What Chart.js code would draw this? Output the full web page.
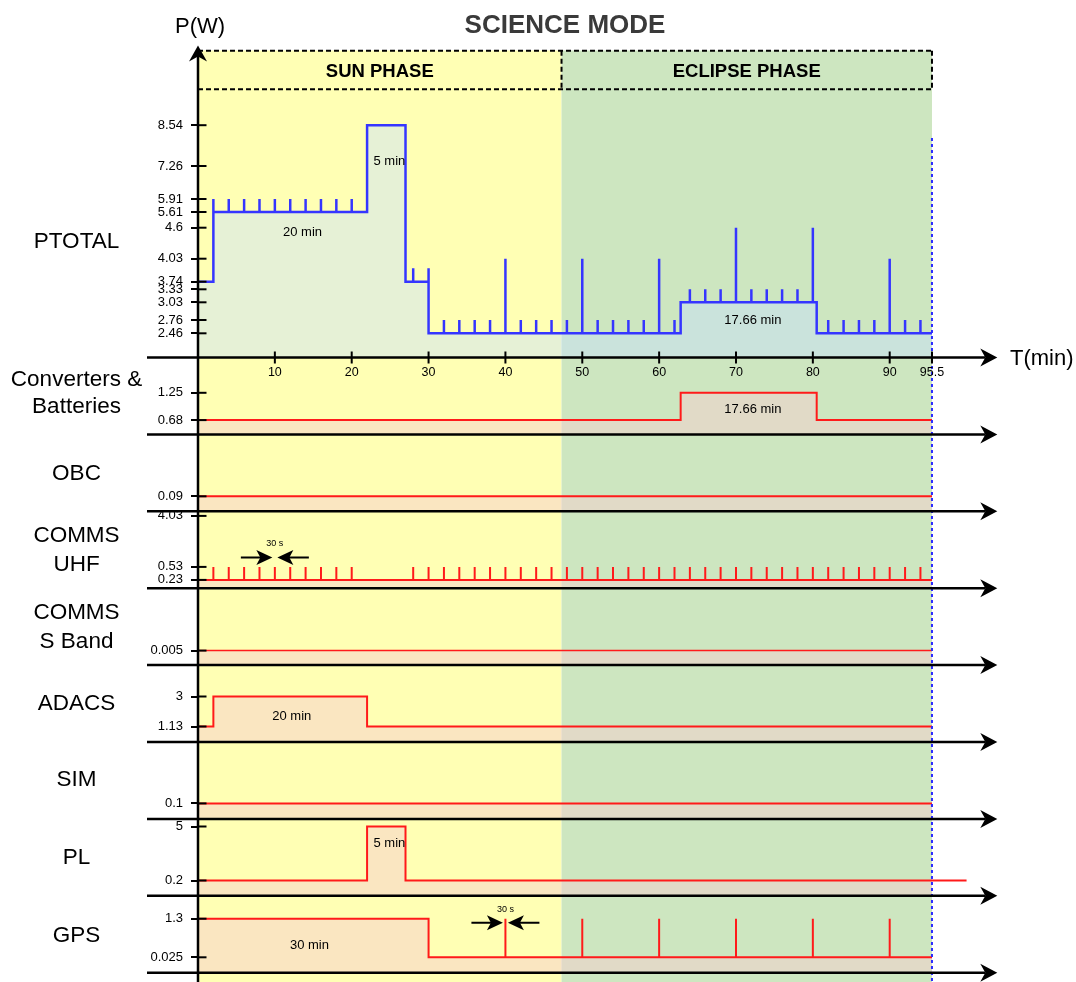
<!DOCTYPE html>
<html>
<head>
<meta charset="utf-8">
<script src="https://cdn.jsdelivr.net/npm/chart.js@4.4.1/dist/chart.umd.min.js"></script>
<style>
  html, body { margin: 0; padding: 0; background: #ffffff; overflow: hidden; }
  #wrap { position: relative; width: 1076px; height: 982px; }
  canvas { display: block; }
</style>
</head>
<body>
<div id="wrap"><canvas id="c" width="1076" height="982"></canvas></div>
<script>
// ================= DATA =================
const timeTicks = [10, 20, 30, 40, 50, 60, 70, 80, 90, 95.5];
const sunPhaseEnd = 47.3;    // min
const orbitEnd = 95.5;       // min

const ptotalTicks = [2.46, 2.76, 3.03, 3.33, 3.74, 4.03, 4.6, 5.61, 5.91, 7.26, 8.54];
const convTicks   = [0.68, 1.25];
const obcTicks    = [0.09];
const uhfTicks    = [0.23, 0.53, 4.03];
const sbandTicks  = [0.005];
const adacsTicks  = [1.13, 3];
const simTicks    = [0.1];
const plTicks     = [0.2, 5];
const gpsTicks    = [0.025, 1.3];

// total power [min, W]
const ptotalPoints = [
  [0, 3.74], [2, 3.74], [2, 5.91], [2, 5.61],
  [4, 5.61], [4, 5.91], [4, 5.61],
  [6, 5.61], [6, 5.91], [6, 5.61],
  [8, 5.61], [8, 5.91], [8, 5.61],
  [10, 5.61], [10, 5.91], [10, 5.61],
  [12, 5.61], [12, 5.91], [12, 5.61],
  [14, 5.61], [14, 5.91], [14, 5.61],
  [16, 5.61], [16, 5.91], [16, 5.61],
  [18, 5.61], [18, 5.91], [18, 5.61],
  [20, 5.61], [20, 5.91], [20, 5.61],
  [22, 5.61], [22, 8.54], [27, 8.54], [27, 3.74],
  [28, 3.74], [28, 3.91], [28, 3.74],
  [30, 3.74], [30, 3.91], [30, 2.46],
  [32, 2.46], [32, 2.76], [32, 2.46],
  [34, 2.46], [34, 2.76], [34, 2.46],
  [36, 2.46], [36, 2.76], [36, 2.46],
  [38, 2.46], [38, 2.76], [38, 2.46],
  [40, 2.46], [40, 4.03], [40, 2.46],
  [42, 2.46], [42, 2.76], [42, 2.46],
  [44, 2.46], [44, 2.76], [44, 2.46],
  [46, 2.46], [46, 2.76], [46, 2.46],
  [48, 2.46], [48, 2.76], [48, 2.46],
  [50, 2.46], [50, 4.03], [50, 2.46],
  [52, 2.46], [52, 2.76], [52, 2.46],
  [54, 2.46], [54, 2.76], [54, 2.46],
  [56, 2.46], [56, 2.76], [56, 2.46],
  [58, 2.46], [58, 2.76], [58, 2.46],
  [60, 2.46], [60, 4.03], [60, 2.46],
  [62, 2.46], [62, 2.76], [62, 2.46],
  [62.8, 2.46], [62.8, 3.03],
  [64, 3.03], [64, 3.33], [64, 3.03],
  [66, 3.03], [66, 3.33], [66, 3.03],
  [68, 3.03], [68, 3.33], [68, 3.03],
  [70, 3.03], [70, 4.6], [70, 3.03],
  [72, 3.03], [72, 3.33], [72, 3.03],
  [74, 3.03], [74, 3.33], [74, 3.03],
  [76, 3.03], [76, 3.33], [76, 3.03],
  [78, 3.03], [78, 3.33], [78, 3.03],
  [80, 3.03], [80, 4.6], [80, 3.03],
  [80.5, 3.03], [80.5, 2.46],
  [82, 2.46], [82, 2.76], [82, 2.46],
  [84, 2.46], [84, 2.76], [84, 2.46],
  [86, 2.46], [86, 2.76], [86, 2.46],
  [88, 2.46], [88, 2.76], [88, 2.46],
  [90, 2.46], [90, 4.03], [90, 2.46],
  [92, 2.46], [92, 2.76], [92, 2.46],
  [94, 2.46], [94, 2.76], [94, 2.46],
  [95.5, 2.46]
];

const convPoints  = [[0, 0.68], [62.8, 0.68], [62.8, 1.25], [80.5, 1.25], [80.5, 0.68], [95.5, 0.68]];
const obcPoints   = [[0, 0.09], [95.5, 0.09]];
const uhfBase = 0.23, uhfPeak = 0.53;
const uhfBeaconTimes = [2, 4, 6, 8, 10, 12, 14, 16, 18, 20,
  28, 30, 32, 34, 36, 38, 40, 42, 44, 46, 48, 50, 52, 54, 56, 58, 60, 62,
  64, 66, 68, 70, 72, 74, 76, 78, 80, 82, 84, 86, 88, 90, 92, 94];
const sbandPoints = [[0, 0.005], [95.5, 0.005]];
const adacsPoints = [[0, 1.13], [2, 1.13], [2, 3], [22, 3], [22, 1.13], [95.5, 1.13]];
const simPoints   = [[0, 0.1], [95.5, 0.1]];
const plPoints    = [[0, 0.2], [22, 0.2], [22, 5], [27, 5], [27, 0.2], [95.5, 0.2]];
const plTailPoints = [[95.5, 0.2], [100, 0.2]];
const gpsPoints   = [
  [0, 1.3], [30, 1.3], [30, 0.025],
  [40, 0.025], [40, 1.3], [40, 0.025],
  [50, 0.025], [50, 1.3], [50, 0.025],
  [60, 0.025], [60, 1.3], [60, 0.025],
  [70, 0.025], [70, 1.3], [70, 0.025],
  [80, 0.025], [80, 1.3], [80, 0.025],
  [90, 0.025], [90, 1.3], [90, 0.025],
  [95.5, 0.025]
];

// ================= LAYOUT / STYLE =================
const FONT = '"Liberation Sans", Arial, Helvetica, sans-serif';
const SUN_BG = '#ffffb4';
const ECL_BG = '#cde6c0';
const RED = '#ff1a1a';
const RED_FILL = 'rgba(245,205,205,0.5)';
const BLUE = '#3535ff';
const BLUE_FILL = 'rgba(200,225,255,0.45)';

// schematic (piecewise) vertical scales: [value, px above panel bottom]
const panelLayout = {
  yP:     { ticks: ptotalTicks, h: 312.5, anchors: [[0,0],[2.46,24.2],[2.76,37.5],[3.03,55.2],[3.33,68.2],[3.74,75.8],[4.03,98.8],[4.6,129.8],[5.61,145.5],[5.91,158.5],[7.26,191.5],[8.54,232.3]],
            label: [['PTOTAL', 109.5]] },
  yConv:  { ticks: convTicks, h: 76.9, anchors: [[0,0],[0.68,14.3],[1.25,41.6]],
            label: [['Converters &', 48.3], ['Batteries', 21.6]] },
  yObc:   { ticks: obcTicks, h: 76.9, anchors: [[0,0],[0.09,15]],
            label: [['OBC', 31.7]] },
  yUhf:   { ticks: uhfTicks, h: 76.9, anchors: [[0,0],[0.23,8.3],[0.53,21.3],[4.03,72.3]],
            label: [['COMMS', 46], ['UHF', 17.3]] },
  ySb:    { ticks: sbandTicks, h: 76.9, anchors: [[0,0],[0.005,14.5]],
            label: [['COMMS', 45.8], ['S Band', 16.8]] },
  yAd:    { ticks: adacsTicks, h: 76.9, anchors: [[0,0],[1.13,15.5],[3,45.5]],
            label: [['ADACS', 31.7]] },
  ySim:   { ticks: simTicks, h: 76.9, anchors: [[0,0],[0.1,15.5]],
            label: [['SIM', 33]] },
  yPl:    { ticks: plTicks, h: 76.9, anchors: [[0,0],[0.2,15.3],[5,69.3]],
            label: [['PL', 32]] },
  yGps:   { ticks: gpsTicks, h: 76.9, anchors: [[0,0],[0.025,15.4],[1.3,54]],
            label: [['GPS', 30.7]] }
};
const panelOrder = ['yP','yConv','yObc','yUhf','ySb','yAd','ySim','yPl','yGps'];

// annotations: [panel, minute, px above panel bottom, text]
const annotations = [
  ['yP', 13.6, 125.5, '20 min'],
  ['yP', 24.9, 196.5, '5 min'],
  ['yP', 72.2, 37, '17.66 min'],
  ['yConv', 72.2, 25.3, '17.66 min'],
  ['yAd', 12.2, 25.7, '20 min'],
  ['yPl', 24.9, 52.5, '5 min'],
  ['yGps', 14.5, 27.7, '30 min']
];
// 30 s markers: [panel, minute, arrow dy, text dy]
const markers = [['yUhf', 10, 30.7, 45], ['yGps', 40, 50, 63.4]];

// ================= CUSTOM SCALE =================
const Linear = Chart.LinearScale || Chart.registry.getScale('linear');
class PiecewiseScale extends Linear {
  buildTicks() { return panelLayout[this.id].ticks.map(v => ({ value: v })); }
  getPixelForValue(v) {
    if (v === null || v === undefined || isNaN(v)) return NaN;
    const a = panelLayout[this.id].anchors;
    let i = 1;
    while (i < a.length - 1 && v > a[i][0]) i++;
    const v0 = a[i-1][0], o0 = a[i-1][1], v1 = a[i][0], o1 = a[i][1];
    return this.bottom - (o0 + (v - v0) * (o1 - o0) / (v1 - v0));
  }
  getValueForPixel(p) {
    const a = panelLayout[this.id].anchors;
    const off = this.bottom - p;
    let i = 1;
    while (i < a.length - 1 && off > a[i][1]) i++;
    const v0 = a[i-1][0], o0 = a[i-1][1], v1 = a[i][0], o1 = a[i][1];
    return v0 + (off - o0) * (v1 - v0) / (o1 - o0);
  }
}
PiecewiseScale.id = 'piecewise';
Chart.register(PiecewiseScale);

// ================= DATASETS =================
const toXY = pts => pts.map(p => ({ x: p[0], y: p[1] }));
function beaconSeries(times, base, peak, end) {
  const out = [{ x: 0, y: base }];
  times.forEach(t => { out.push({ x: t, y: base }, { x: t, y: peak }, { x: t, y: base }); });
  out.push({ x: end, y: base });
  return out;
}
function ds(data, axis, opts) {
  return Object.assign({
    type: 'line', data, yAxisID: axis,
    borderColor: RED, backgroundColor: RED_FILL, borderWidth: 2,
    fill: 'start', pointRadius: 0, tension: 0,
    borderJoinStyle: 'miter', borderCapStyle: 'butt'
  }, opts || {});
}
const datasets = [
  ds(toXY(ptotalPoints), 'yP', { borderColor: BLUE, backgroundColor: BLUE_FILL, borderWidth: 2.5 }),
  ds(toXY(convPoints), 'yConv'),
  ds(toXY(obcPoints), 'yObc'),
  ds(beaconSeries(uhfBeaconTimes, uhfBase, uhfPeak, orbitEnd), 'yUhf'),
  ds(toXY(sbandPoints), 'ySb', { borderWidth: 1.5 }),
  ds(toXY(adacsPoints), 'yAd'),
  ds(toXY(simPoints), 'ySim'),
  ds(toXY(plPoints), 'yPl'),
  ds(toXY(plTailPoints), 'yPl', { fill: false }),
  ds(toXY(gpsPoints), 'yGps')
];

// ================= SCALES =================
const scales = {
  x: { type: 'linear', min: 0, max: 104, display: false }
};
panelOrder.forEach((id, idx) => {
  scales[id] = {
    type: 'piecewise', axis: 'y', position: 'left',
    stack: 'panels', stackWeight: panelLayout[id].h, weight: 20 - idx,
    min: 0, max: 10,
    border: { display: false },
    grid: { display: true, drawOnChartArea: false, drawTicks: true, tickLength: 7,
            tickColor: '#000', color: '#000', lineWidth: 2, tickWidth: 2 },
    ticks: { autoSkip: false, padding: 8, color: '#000',
             font: { family: FONT, size: 13 }, callback: v => String(v) },
    afterFit: s => { s.width = 60; s.paddingTop = 0; s.paddingBottom = 0; }
  };
});

// ================= DECORATION PLUGIN =================
function arrowHead(ctx, tx, ty, dx, dy, L, W, n) {
  const px = -dy, py = dx;
  ctx.beginPath();
  ctx.moveTo(tx, ty);
  ctx.lineTo(tx - dx * L + px * W, ty - dy * L + py * W);
  ctx.lineTo(tx - dx * (L - n), ty - dy * (L - n));
  ctx.lineTo(tx - dx * L - px * W, ty - dy * L - py * W);
  ctx.closePath();
  ctx.fill();
}

const deco = {
  id: 'deco',
  beforeDraw(chart) {
    const ctx = chart.ctx, xs = chart.scales.x;
    const X = v => xs.getPixelForValue(v);
    ctx.save();
    ctx.fillStyle = SUN_BG;
    ctx.fillRect(X(0), 50.5, X(sunPhaseEnd) - X(0), 982 - 50.5);
    ctx.fillStyle = ECL_BG;
    ctx.fillRect(X(sunPhaseEnd), 50.5, X(orbitEnd) - X(sunPhaseEnd), 982 - 50.5);
    ctx.restore();
  },
  afterDraw(chart) {
    const ctx = chart.ctx, xs = chart.scales.x;
    const X = v => xs.getPixelForValue(v);
    const x0 = chart.chartArea.left, xSun = X(sunPhaseEnd), xEnd = X(orbitEnd);
    const right = chart.chartArea.right;
    ctx.save();

    // title
    ctx.fillStyle = '#3a3a3a';
    ctx.textAlign = 'center';
    ctx.textBaseline = 'alphabetic';
    ctx.font = 'bold 26px ' + FONT;
    ctx.fillText('SCIENCE MODE', 565, 33.3);
    ctx.fillStyle = '#000';
    ctx.font = '22px ' + FONT;
    ctx.fillText('P(W)', 200, 33.3);
    ctx.textAlign = 'left';
    ctx.fillText('T(min)', 1010, 365);

    // phase boxes
    ctx.strokeStyle = '#000';
    ctx.lineWidth = 2;
    ctx.setLineDash([5, 3]);
    ctx.beginPath();
    ctx.moveTo(x0, 50.7); ctx.lineTo(xEnd, 50.7);
    ctx.moveTo(x0, 89.3); ctx.lineTo(xEnd, 89.3);
    ctx.moveTo(xSun, 50.7); ctx.lineTo(xSun, 89.3);
    ctx.moveTo(xEnd, 50.7); ctx.lineTo(xEnd, 89.3);
    ctx.stroke();
    ctx.setLineDash([]);
    ctx.textAlign = 'center';
    ctx.font = 'bold 18.5px ' + FONT;
    ctx.fillText('SUN PHASE', (x0 + xSun) / 2, 76.7);
    ctx.fillText('ECLIPSE PHASE', (xSun + xEnd) / 2, 76.7);

    // dotted end-of-orbit line
    ctx.strokeStyle = '#2b2bff';
    ctx.lineWidth = 2;
    ctx.setLineDash([3, 3]);
    ctx.beginPath();
    ctx.moveTo(xEnd, 138); ctx.lineTo(xEnd, 982);
    ctx.stroke();
    ctx.setLineDash([]);

    // panel axes with arrows, tick stubs, labels
    ctx.strokeStyle = '#000';
    ctx.fillStyle = '#000';
    panelOrder.forEach(id => {
      const s = chart.scales[id];
      const y = s.bottom;
      ctx.lineWidth = 2.5;
      ctx.beginPath();
      ctx.moveTo(147, y); ctx.lineTo(right - 12, y);
      ctx.stroke();
      arrowHead(ctx, right, y, 1, 0, 17, 9, 5);
      ctx.lineWidth = 2;
      s.ticks.forEach((t, i) => {
        const ty = s.getPixelForTick(i);
        ctx.beginPath();
        ctx.moveTo(x0, ty); ctx.lineTo(x0 + 8.5, ty);
        ctx.stroke();
      });
      ctx.font = '22.5px ' + FONT;
      ctx.textAlign = 'center';
      ctx.textBaseline = 'alphabetic';
      panelLayout[id].label.forEach(l => ctx.fillText(l[0], 76.5, y - l[1]));
    });

    // vertical axis with arrow
    ctx.lineWidth = 2.5;
    ctx.beginPath();
    ctx.moveTo(x0, 56); ctx.lineTo(x0, 982);
    ctx.stroke();
    arrowHead(ctx, x0, 45.5, 0, -1, 16, 9, 5);

    // time ticks on PTOTAL axis
    const yP = chart.scales.yP.bottom;
    ctx.lineWidth = 2;
    ctx.font = '12.5px ' + FONT;
    ctx.textAlign = 'center';
    ctx.textBaseline = 'alphabetic';
    timeTicks.forEach(t => {
      const tx = X(t);
      ctx.beginPath();
      ctx.moveTo(tx, yP - 6); ctx.lineTo(tx, yP + 6);
      ctx.stroke();
      ctx.fillText(String(t), tx, yP + 18.5);
    });

    // annotations
    ctx.font = '13px ' + FONT;
    ctx.textBaseline = 'middle';
    annotations.forEach(a => {
      const s = chart.scales[a[0]];
      ctx.fillText(a[3], X(a[1]), s.bottom - a[2]);
    });

    // 30 s markers
    markers.forEach(m => {
      const s = chart.scales[m[0]];
      const cx = X(m[1]);
      const ay = s.bottom - m[2];
      ctx.lineWidth = 2;
      ctx.beginPath();
      ctx.moveTo(cx - 34, ay); ctx.lineTo(cx - 10, ay);
      ctx.moveTo(cx + 34, ay); ctx.lineTo(cx + 10, ay);
      ctx.stroke();
      arrowHead(ctx, cx - 2.5, ay, 1, 0, 16, 7.5, 4);
      arrowHead(ctx, cx + 2.5, ay, -1, 0, 16, 7.5, 4);
      ctx.font = '9px ' + FONT;
      ctx.fillText('30 s', cx, s.bottom - m[3]);
    });

    ctx.restore();
  }
};

new Chart(document.getElementById('c'), {
  type: 'line',
  data: { datasets },
  options: {
    responsive: false,
    animation: false,
    devicePixelRatio: 1,
    events: [],
    parsing: true,
    layout: { padding: { left: 138, right: 78.7, top: 45, bottom: 9.3 } },
    scales,
    plugins: { legend: { display: false }, tooltip: { enabled: false }, title: { display: false } }
  },
  plugins: [deco]
});
</script>
</body>
</html>
